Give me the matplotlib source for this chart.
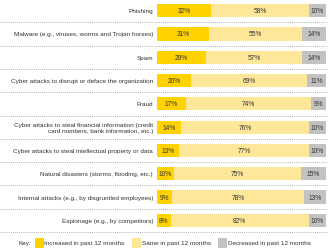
import matplotlib
matplotlib.use("Agg")
import matplotlib.pyplot as plt
from matplotlib.patches import Rectangle
from matplotlib.lines import Line2D

plt.rcParams["font.family"] = ["Liberation Sans", "DejaVu Sans"]

categories = [
    "Phishing",
    "Malware (e.g., viruses, worms and Trojan horses)",
    "Spam",
    "Cyber attacks to disrupt or deface the organization",
    "Fraud",
    "Cyber attacks to steal financial information (credit\ncard numbers, bank information, etc.)",
    "Cyber attacks to steal intellectual property or data",
    "Natural disasters (storms, flooding, etc.)",
    "Internal attacks (e.g., by disgruntled employees)",
    "Espionage (e.g., by competitors)",
]
increased = [32, 31, 29, 20, 17, 14, 13, 10, 9, 8]
same = [58, 55, 57, 69, 74, 76, 77, 75, 78, 82]
decreased = [10, 14, 14, 11, 9, 10, 10, 15, 13, 10]
key_labels = ["Increased in past 12 months", "Same in past 12 months",
              "Decreased in past 12 months"]

GOLD, LIGHT, GREY = "#FFD200", "#FFE79A", "#C2C2C2"
TXT = "#333333"
FS = 4.6

W, H = 328, 251
fig = plt.figure(figsize=(W / 100, H / 100), dpi=100)
ax = fig.add_axes([157 / W, (H - 233) / H, 169 / W, 233 / H])
ax.set_xlim(0, 100)
ax.set_ylim(9.5, -0.5)
ax.axis("off")

n = len(categories)
for i in range(n):
    segs = [(0, increased[i], GOLD), (increased[i], same[i], LIGHT),
            (increased[i] + same[i], decreased[i], GREY)]
    for left, w, c in segs:
        ax.barh(i, w, left=left, height=0.57, color=c, lw=0)
        ax.text(left + w / 2, i, f"{w}%", ha="center", va="center",
                fontsize=FS + 0.2, color=TXT)
    ax.text(-4 / 1.69, i, categories[i], ha="right", va="center",
            fontsize=FS, color=TXT, linespacing=1.3, clip_on=False)

# dotted separators spanning the full figure width
trans = ax.get_yaxis_transform()
x0 = -157 / 169
x1 = (W - 157) / 169
for i in range(n):
    ax.add_line(Line2D([x0, x1], [i + 0.5, i + 0.5], transform=trans,
                       color="#999999", lw=0.6, ls=(0, (1, 1.5)), clip_on=False))
ax.add_line(Line2D([x0, x1], [-0.5, -0.5], transform=trans, color="#333333",
                   lw=1.3, clip_on=False))

# key
ky = (H - 243.5) / H
fig.text(31 / W, ky, "Key:", ha="right", va="center", fontsize=FS, color=TXT)
keys = [(35, GOLD, key_labels[0]), (132, LIGHT, key_labels[1]),
        (218, GREY, key_labels[2])]
for x, c, lab in keys:
    fig.add_artist(Rectangle((x / W, (H - 248.5) / H), 8.5 / W, 9.5 / H,
                             transform=fig.transFigure, color=c, lw=0))
    fig.text((x + 9.5) / W, ky, lab, ha="left", va="center", fontsize=FS, color=TXT)

fig.savefig("out.png", dpi=100)
